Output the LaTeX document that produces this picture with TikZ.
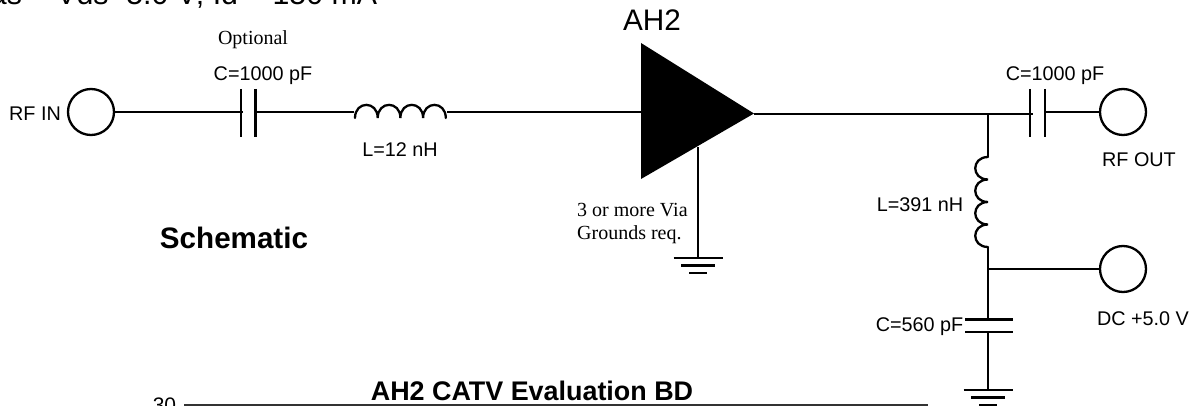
\documentclass[tikz,border=0pt]{standalone}
\usepackage{fontspec}
\setmainfont{Liberation Sans}
\newfontfamily\serifx{Liberation Serif}
\tikzset{
  wire/.style={line width=2.3pt,black},
  port/.style={circle,draw=black,line width=2.3pt,minimum size=46pt,inner sep=0pt,fill=white},
  lbl/.style={inner sep=0pt,font=\fontsize{19.8}{23}\selectfont,text=black},
  serlbl/.style={inner sep=0pt,font=\serifx\fontsize{20}{23}\selectfont,text=black},
  big/.style={inner sep=0pt,font=\fontsize{29.7}{34}\selectfont,text=black},
  toptext/.style={inner sep=0pt,font=\fontsize{30.3}{34}\selectfont,text=black},
  bigb/.style={inner sep=0pt,font=\bfseries\fontsize{29.6}{34}\selectfont,text=black},
  titleb/.style={inner sep=0pt,font=\bfseries\fontsize{26.9}{31}\selectfont,text=black},
  axisline/.style={line width=1.1pt,black!80},
}
\newcommand{\gndsym}[1]{%
  \draw[wire] ([xshift=-24.5pt]#1) -- ([xshift=24.5pt]#1);
  \draw[wire] ([xshift=-17pt,yshift=-7.5pt]#1) -- ([xshift=17pt,yshift=-7.5pt]#1);
  \draw[wire] ([xshift=-9pt,yshift=-15pt]#1) -- ([xshift=9pt,yshift=-15pt]#1);
}
\begin{document}
\begin{tikzpicture}[x=1pt,y=-1pt]
\useasboundingbox (0,0) rectangle (1197,406);
\clip (0,0) rectangle (1197,406);
% top text (cropped by the page edge)
\node[toptext,anchor=base west] (bias) at (-17,4.5) {ias = Vds=5.0 V; Id = 150 mA};
% ports
\node[port] (rfin) at (91,112) {};
\node[port] (rfout) at (1123,112) {};
\node[port] (dc) at (1123,269) {};
% amplifier
\coordinate (ampin) at (641,112);
\coordinate (ampout) at (754,114);
\coordinate (ampgnd) at (698,147);
\fill[black] (641,43) -- (641,179) -- (754,113.5) -- cycle;
% input chain
\coordinate (c1a) at (243,112); \coordinate (c1b) at (257,112);
\coordinate (l1a) at (354,112); \coordinate (l1b) at (447,112);
\draw[wire] (rfin) -- (c1a);
\draw[wire] (c1b) -- (l1a);
\draw[wire] (l1b) -- (ampin);
\draw[wire] (240.7,89) -- (240.7,137);
\draw[wire] (255.6,89) -- (255.6,137);
\draw[wire,line cap=round] (355,118)
  \foreach \k in {0,1,2,3} { .. controls (355+\k*22.7,100.5) and (377.7+\k*22.7,100.5) .. (377.7+\k*22.7,118) };
% output chain
\coordinate (c2a) at (1033,114); \coordinate (c2b) at (1046,112);
\coordinate (junc) at (988,114);
\draw[wire] (ampout) -- (c2a);
\draw[wire] (c2b) -- (rfout);
\draw[wire] (1030,89) -- (1030,137);
\draw[wire] (1045,89) -- (1045,137);
% shunt branch
\coordinate (l2a) at (988,157); \coordinate (l2b) at (988,247);
\coordinate (dcj) at (988,269);
\coordinate (c3a) at (988,319); \coordinate (c3b) at (988,332);
\coordinate (gnd2) at (988,390);
\coordinate (gnd1) at (698,258);
\draw[wire] (junc) -- (l2a);
\draw[wire,line cap=round] (988,157)
  \foreach \k in {0,1,2,3} { .. controls (971,157+\k*22.5) and (971,179.5+\k*22.5) .. (988,179.5+\k*22.5) };
\draw[wire] (l2b) -- (c3a);
\draw[wire] (dcj) -- (dc);
\draw[wire] (965,319.5) -- (1013,319.5);
\draw[wire] (965,332) -- (1013,332);
\draw[wire] (c3b) -- (gnd2);
\gndsym{gnd2}
\draw[wire] (ampgnd) -- (gnd1);
\gndsym{gnd1}
% labels
\node[big] (amp) at (652,20) {AH2};
\node[serlbl] (opt) at (253,40) {Optional};
\node[lbl] (c1l) at (263,76) {C=1000 pF};
\node[lbl] (inl) at (35,114) {RF IN};
\node[lbl] (l1l) at (400,150) {L=12 nH};
\node[serlbl,anchor=west] (via1) at (577,210) {3 or more Via};
\node[serlbl,anchor=west] (via2) at (577,234.5) {Grounds req.};
\node[bigb] (sch) at (234,238) {Schematic};
\node[lbl,anchor=east] (l2l) at (963.5,205) {L=391 nH};
\node[lbl] (c2l) at (1055,76) {C=1000 pF};
\node[lbl] (outl) at (1139,160) {RF OUT};
\node[lbl] (dcl) at (1143,319) {DC +5.0 V};
\node[lbl,anchor=east] (c3l) at (963.5,327) {C=560 pF};
% chart (cropped by the page edge)
\node[titleb,anchor=base] (ttl) at (532,400.5) {AH2 CATV Evaluation BD};
\node[inner sep=0pt,anchor=base,font=\fontsize{21}{24}\selectfont] (yl) at (164.5,412) {30};
\coordinate (axl) at (184,405); \coordinate (axr) at (928,405);
\draw[axisline] (axl) -- (axr);
\foreach \k in {0,...,10} \draw[axisline] (191.7+\k*73.6,405) -- (191.7+\k*73.6,407);
\end{tikzpicture}
\end{document}
